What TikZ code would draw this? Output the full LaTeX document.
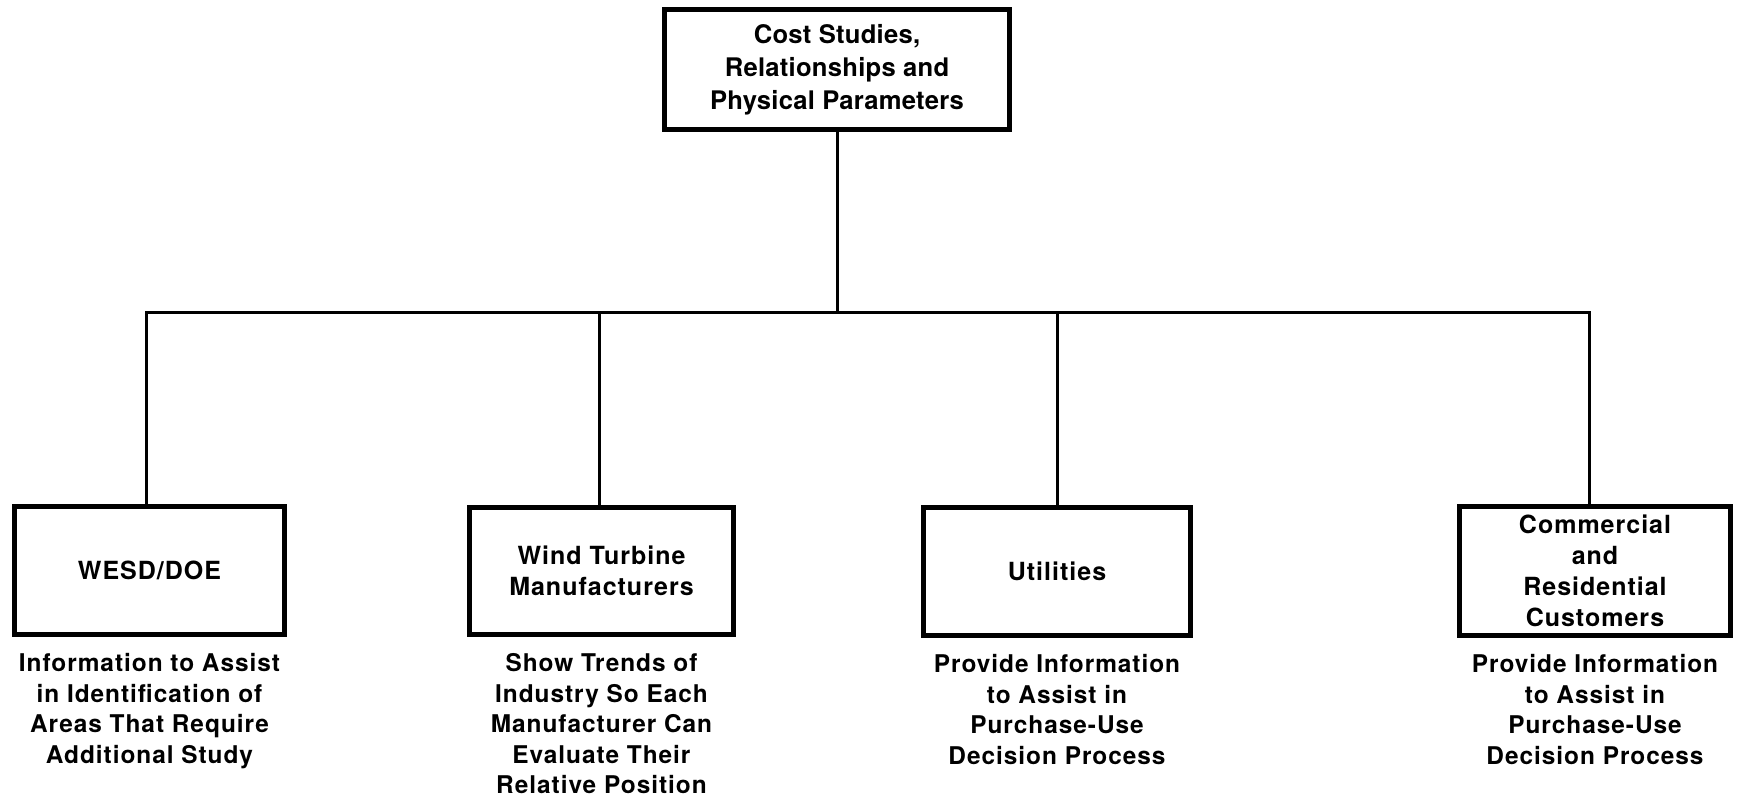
\documentclass[tikz,border=0pt]{standalone}
\usepackage{fontspec}
\setmainfont{TeX Gyre Heros}
\usetikzlibrary{positioning}
\begin{document}
\begin{tikzpicture}[x=0.5pt,y=-0.5pt]
\tikzstyle{every node}+=[inner sep=0pt]
\tikzstyle{box}=[draw, line width=2.5pt, align=center, font=\fontsize{12.5}{15.5}\selectfont\bfseries\addfontfeature{LetterSpace=4}]
\tikzstyle{desc}=[align=center, font=\fontsize{12.2}{15.3}\selectfont\bfseries\addfontfeature{LetterSpace=4}]
\tikzstyle{link}=[line width=1.5pt]
\useasboundingbox (0,0) rectangle (1737,802);
\node [box, minimum width=172.5pt, minimum height=60pt, font=\fontsize{12.8}{16.5}\selectfont\bfseries\addfontfeature{LetterSpace=1}] (cost) at (837,69.5) {Cost Studies,\\Relationships and\\Physical Parameters};
\node [box, minimum width=135pt, minimum height=64pt] (wesd) at (149.5,570.5) {WESD/DOE};
\node [box, minimum width=132pt, minimum height=63.5pt] (turbine) at (601.5,571) {Wind Turbine\\Manufacturers};
\node [box, minimum width=133.5pt, minimum height=64pt] (utility) at (1057,571.5) {Utilities};
\node [box, minimum width=135.5pt, minimum height=64.5pt] (customer) at (1595,571) {Commercial\\and\\Residential\\Customers};
\coordinate (bar) at (0,313);
\coordinate (hub) at (cost.south |- bar);
\draw [link] (cost.south) -- (hub);
\foreach \n/\d in {wesd/-3,turbine/-2,utility/0,customer/-6}
  \draw [link] (hub) -| ([xshift=\d*0.5pt]\n.north);
\node [desc, below=8pt of wesd] (wesdinfo) {Information to Assist\\in Identification of\\Areas That Require\\Additional Study};
\node [desc, below=8pt of turbine] (turbineinfo) {Show Trends of\\Industry So Each\\Manufacturer Can\\Evaluate Their\\Relative Position};
\node [desc, below=8pt of utility] (utilityinfo) {Provide Information\\to Assist in\\Purchase-Use\\Decision Process};
\node [desc, below=8pt of customer] (customerinfo) {Provide Information\\to Assist in\\Purchase-Use\\Decision Process};
\end{tikzpicture}
\end{document}
